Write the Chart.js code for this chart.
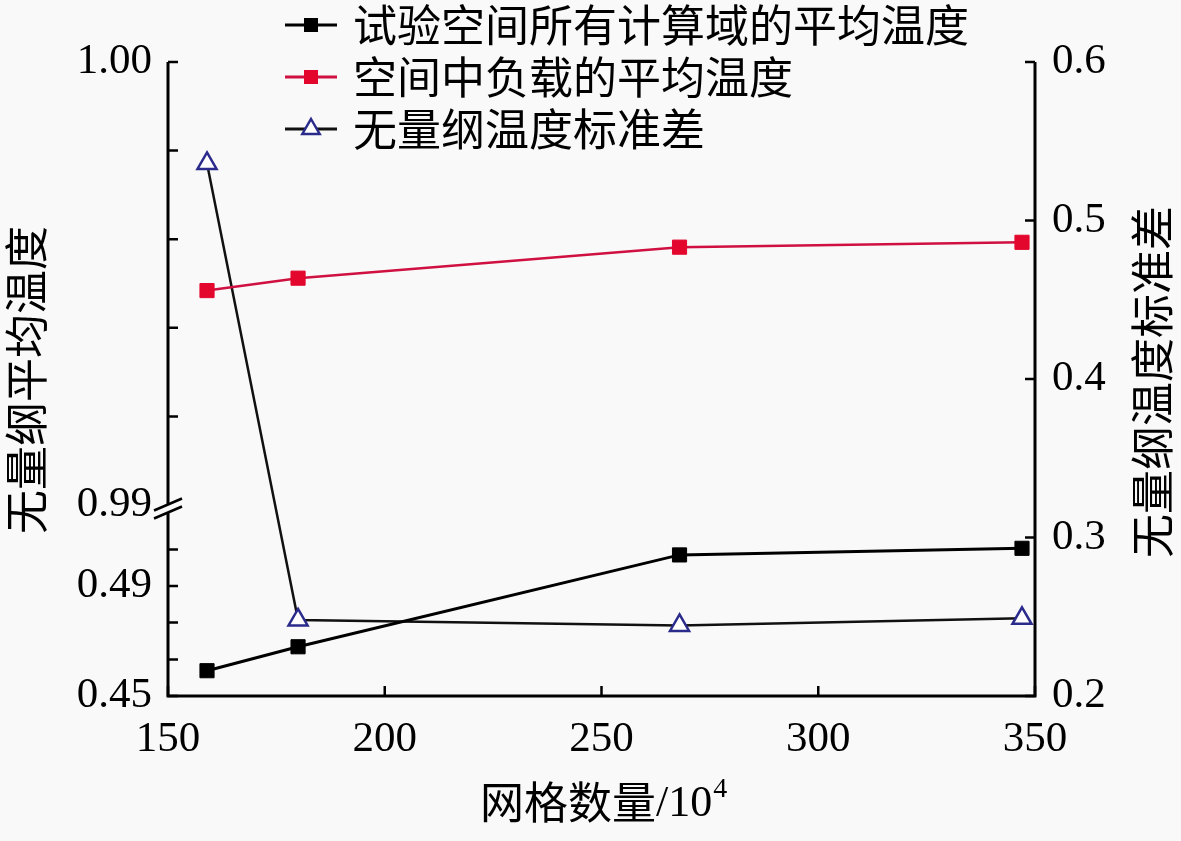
<!DOCTYPE html>
<html>
<head>
<meta charset="utf-8">
<script src="https://cdn.jsdelivr.net/npm/chart.js@4.4.1/dist/chart.umd.min.js"></script>
<style>
  html, body { margin: 0; padding: 0; background: #f9f9f9; }
  canvas { display: block; }
</style>
</head>
<body>
<canvas id="gridChart" width="1181" height="841"></canvas>
<script>
// values
const gridCounts = [159, 180, 268, 347];
const domainAvgTemp = [0.4592, 0.4679, 0.5013, 0.5037];
const loadAvgTemp = [0.99484, 0.99512, 0.99582, 0.99593];
const tempStdDev = [0.536, 0.248, 0.2445, 0.249];

const seriesNames = ['试验空间所有计算域的平均温度', '空间中负载的平均温度', '无量纲温度标准差'];
const leftTickValues = [0.45, 0.4633, 0.4767, 0.49, 0.5033, 0.99, 0.992, 0.994, 0.996, 0.998, 1.0];
const leftTickLabels = ['0.45', '', '', '0.49', '', '0.99', '', '', '', '', '1.00'];

const BG = '#f9f9f9';
const CJK = '"Noto Sans CJK SC", "Noto Sans", sans-serif';
const SERIF = '"Liberation Serif", "DejaVu Serif", serif';

// linear scale with a gap (broken axis)
class BrokenLinearScale extends Chart.LinearScale {
    buildTicks() {
        return this.options.tickValues.map(v => ({ value: v }));
    }
    getPixelForValue(value) {
        const b = this.options.broken;
        let d;
        if (value <= b.lowMax) {
            d = (value - b.lowMin) / (b.lowMax - b.lowMin) * b.lowFrac;
        } else if (value >= b.highMin) {
            d = b.highFrac + (value - b.highMin) / (b.highMax - b.highMin) * (1 - b.highFrac);
        } else {
            d = b.lowFrac + (value - b.lowMax) / (b.highMin - b.lowMax) * (b.highFrac - b.lowFrac);
        }
        return this.getPixelForDecimal(d);
    }
}
BrokenLinearScale.id = 'brokenLinear';
BrokenLinearScale.defaults = Chart.LinearScale.defaults;
Chart.register(BrokenLinearScale);

const colors = {
    black: '#000000',
    red: '#e3062d',
    redLine: '#cf1040',
    blue: '#2b2b8c'
};

function drawMarker(ctx, kind, x, y) {
    ctx.save();
    if (kind === 'rect') {
        ctx.fillStyle = colors.black;
        ctx.fillRect(x - 7, y - 7, 14, 14);
    } else if (kind === 'redRect') {
        ctx.fillStyle = colors.red;
        ctx.fillRect(x - 7, y - 7, 14, 14);
    } else {
        const r = 10;
        ctx.beginPath();
        ctx.moveTo(x, y - r);
        ctx.lineTo(x + r * 0.866, y + r / 2);
        ctx.lineTo(x - r * 0.866, y + r / 2);
        ctx.closePath();
        ctx.fillStyle = '#ffffff';
        ctx.fill();
        ctx.lineWidth = 2.5;
        ctx.strokeStyle = colors.blue;
        ctx.stroke();
    }
    ctx.restore();
}

const decorPlugin = {
    id: 'decor',
    beforeDraw(chart) {
        const ctx = chart.ctx;
        ctx.save();
        ctx.fillStyle = BG;
        ctx.fillRect(0, 0, chart.width, chart.height);
        ctx.restore();
    },
    afterDraw(chart) {
        const { ctx, chartArea: a, scales } = chart;
        const yl = scales.yLeft, yr = scales.yRight, x = scales.x;
        ctx.save();
        ctx.strokeStyle = '#000';
        ctx.lineCap = 'butt';

        // axis lines
        ctx.lineWidth = 3;
        ctx.beginPath();
        ctx.moveTo(a.left, a.top);
        ctx.lineTo(a.left, a.bottom + 1.5);
        ctx.moveTo(a.left - 1.5, a.bottom);
        ctx.lineTo(a.right + 1.5, a.bottom);
        ctx.moveTo(a.right, a.bottom + 1.5);
        ctx.lineTo(a.right, a.top);
        ctx.stroke();

        // inward ticks
        ctx.lineWidth = 2.5;
        ctx.beginPath();
        yl.ticks.forEach((t, i) => {
            if (t.value === yl.options.broken.highMin) return;
            const py = yl.getPixelForTick(i);
            ctx.moveTo(a.left, py);
            ctx.lineTo(a.left + 10, py);
        });
        yr.ticks.forEach((t, i) => {
            const py = yr.getPixelForTick(i);
            ctx.moveTo(a.right, py);
            ctx.lineTo(a.right - 10, py);
        });
        x.ticks.forEach((t, i) => {
            const px = x.getPixelForTick(i);
            ctx.moveTo(px, a.bottom);
            ctx.lineTo(px, a.bottom - 10);
        });
        ctx.stroke();

        // break marks on left axis
        const b = yl.options.broken;
        const yb = (yl.getPixelForValue(b.lowMax) + yl.getPixelForValue(b.highMin)) / 2;
        const cx = a.left;
        ctx.fillStyle = BG;
        ctx.beginPath();
        ctx.moveTo(cx - 14, yb + 2);
        ctx.lineTo(cx + 14, yb - 10);
        ctx.lineTo(cx + 14, yb - 2);
        ctx.lineTo(cx - 14, yb + 10);
        ctx.closePath();
        ctx.fill();
        ctx.lineWidth = 2.5;
        ctx.beginPath();
        ctx.moveTo(cx - 14, yb + 2);
        ctx.lineTo(cx + 14, yb - 10);
        ctx.moveTo(cx - 14, yb + 10);
        ctx.lineTo(cx + 14, yb - 2);
        ctx.stroke();

        // axis titles
        ctx.fillStyle = '#000';
        ctx.textBaseline = 'middle';
        ctx.textAlign = 'center';
        ctx.font = '44px ' + CJK;
        ctx.save();
        ctx.translate(26, 380);
        ctx.rotate(-Math.PI / 2);
        ctx.fillText('无量纲平均温度', 0, 0);
        ctx.restore();
        ctx.save();
        ctx.translate(1152, 382);
        ctx.rotate(-Math.PI / 2);
        ctx.fillText('无量纲温度标准差', 0, 0);
        ctx.restore();

        ctx.textAlign = 'left';
        let tx = 480;
        ctx.font = '44px ' + CJK;
        ctx.fillText('网格数量', tx, 802);
        tx += ctx.measureText('网格数量').width;
        ctx.font = '44px ' + SERIF;
        ctx.fillText('/10', tx, 804);
        tx += ctx.measureText('/10').width;
        ctx.font = '28px ' + SERIF;
        ctx.fillText('4', tx + 1, 790);

        // legend
        const kinds = ['rect', 'redRect', 'tri'];
        const lineCols = [colors.black, colors.redLine, '#111'];
        seriesNames.forEach((name, i) => {
            const ry = 25 + i * 52;
            ctx.strokeStyle = lineCols[i];
            ctx.lineWidth = 3;
            ctx.beginPath();
            ctx.moveTo(285, ry);
            ctx.lineTo(337, ry);
            ctx.stroke();
            drawMarker(ctx, kinds[i], 311, ry);
            ctx.fillStyle = '#000';
            ctx.font = '44px ' + CJK;
            ctx.fillText(name, 353, ry);
        });
        ctx.restore();
    }
};

const toPoints = ys => gridCounts.map((g, i) => ({ x: g, y: ys[i] }));

new Chart(document.getElementById('gridChart'), {
    type: 'line',
    data: {
        datasets: [
            {
                label: seriesNames[0],
                data: toPoints(domainAvgTemp),
                yAxisID: 'yLeft',
                borderColor: colors.black,
                backgroundColor: colors.black,
                borderWidth: 3,
                pointStyle: 'rect',
                pointRadius: 10,
                pointBorderWidth: 1,
                pointBorderColor: colors.black,
                pointBackgroundColor: colors.black,
                tension: 0,
                clip: false
            },
            {
                label: seriesNames[1],
                data: toPoints(loadAvgTemp),
                yAxisID: 'yLeft',
                borderColor: colors.redLine,
                backgroundColor: colors.red,
                borderWidth: 2.5,
                pointStyle: 'rect',
                pointRadius: 10,
                pointBorderWidth: 1,
                pointBorderColor: colors.red,
                pointBackgroundColor: colors.red,
                tension: 0,
                clip: false
            },
            {
                label: seriesNames[2],
                data: toPoints(tempStdDev),
                yAxisID: 'yRight',
                borderColor: '#111111',
                borderWidth: 2.5,
                pointStyle: 'triangle',
                pointRadius: 11,
                pointBorderWidth: 2.5,
                pointBorderColor: colors.blue,
                pointBackgroundColor: '#ffffff',
                tension: 0,
                clip: false
            }
        ]
    },
    options: {
        responsive: false,
        animation: false,
        events: [],
        layout: { padding: { top: 62, left: 0, right: 0, bottom: 0 } },
        plugins: {
            legend: { display: false },
            tooltip: { enabled: false }
        },
        scales: {
            x: {
                type: 'linear',
                min: 150,
                max: 350,
                grid: { display: false, drawTicks: false },
                border: { display: false },
                ticks: {
                    stepSize: 50,
                    padding: 18,
                    color: '#000',
                    font: { family: SERIF, size: 43 },
                    callback: v => String(v)
                },
                afterFit: s => { s.height = 145; }
            },
            yLeft: {
                type: 'brokenLinear',
                position: 'left',
                min: 0.45,
                max: 1.0,
                tickValues: leftTickValues,
                broken: { lowMin: 0.45, lowMax: 0.5169, highMin: 0.99, highMax: 1.0, lowFrac: 0.2902, highFrac: 0.3013 },
                grid: { display: false, drawTicks: false },
                border: { display: false },
                ticks: {
                    autoSkip: false,
                    padding: 16,
                    color: '#000',
                    font: { family: SERIF, size: 43 },
                    callback: (v, i) => leftTickLabels[i]
                },
                afterFit: s => { s.width = 168; }
            },
            yRight: {
                type: 'linear',
                position: 'right',
                min: 0.2,
                max: 0.6,
                grid: { display: false, drawTicks: false },
                border: { display: false },
                ticks: {
                    stepSize: 0.1,
                    autoSkip: false,
                    padding: 17,
                    color: '#000',
                    font: { family: SERIF, size: 43 },
                    callback: v => v.toFixed(1)
                },
                afterFit: s => { s.width = 146; }
            }
        }
    },
    plugins: [decorPlugin]
});
</script>
</body>
</html>
